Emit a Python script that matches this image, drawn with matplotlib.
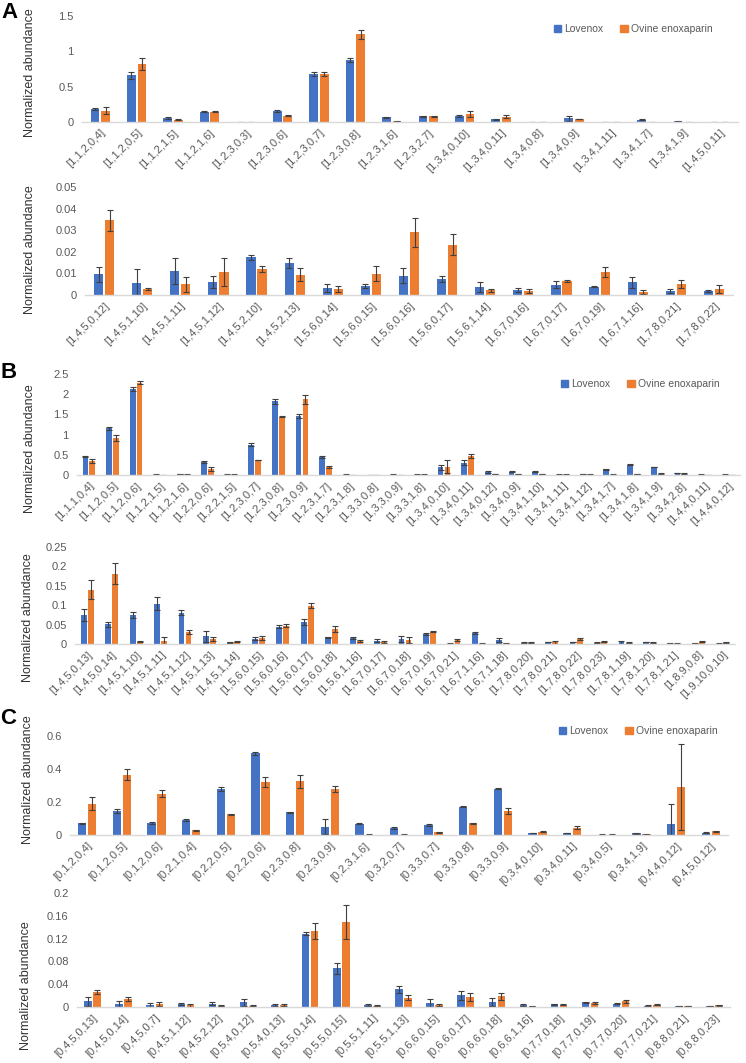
import matplotlib
matplotlib.use("Agg")
import matplotlib.pyplot as plt
from matplotlib.patches import Patch
import numpy as np

plt.rcParams['font.family'] = ['Liberation Sans', 'DejaVu Sans']

BLUE = '#4472C4'
ORANGE = '#ED7D31'
GREY = '#595959'

# --- Panel A, upper ---
labels_a1 = ['[1,1,2,0,4]', '[1,1,2,0,5]', '[1,1,2,1,5]', '[1,1,2,1,6]', '[1,2,3,0,3]', '[1,2,3,0,6]',
             '[1,2,3,0,7]', '[1,2,3,0,8]', '[1,2,3,1,6]', '[1,2,3,2,7]', '[1,3,4,0,10]', '[1,3,4,0,11]',
             '[1,3,4,0,8]', '[1,3,4,0,9]', '[1,3,4,1,11]', '[1,3,4,1,7]', '[1,3,4,1,9]', '[1,4,5,0,11]']
lov_a1 = [0.19, 0.66, 0.055, 0.145, 0.0, 0.155, 0.68, 0.875, 0.065, 0.08, 0.085, 0.037, 0.004, 0.05, 0.003, 0.033, 0.012, 0.002]
lov_err_a1 = [0.015, 0.045, 0.01, 0.01, 0.0, 0.01, 0.03, 0.025, 0.005, 0.005, 0.02, 0.005, 0.002, 0.03, 0.002, 0.005, 0.005, 0.001]
ovi_a1 = [0.16, 0.82, 0.035, 0.145, 0.005, 0.09, 0.68, 1.24, 0.01, 0.08, 0.112, 0.075, 0.004, 0.042, 0.002, 0.0, 0.005, 0.004]
ovi_err_a1 = [0.05, 0.08, 0.005, 0.01, 0.002, 0.01, 0.03, 0.06, 0.003, 0.005, 0.042, 0.023, 0.002, 0.005, 0.001, 0.0, 0.002, 0.002]

# --- Panel A, lower ---
labels_a2 = ['[1,4,5,0,12]', '[1,4,5,1,10]', '[1,4,5,1,11]', '[1,4,5,1,12]', '[1,4,5,2,10]', '[1,4,5,2,13]',
             '[1,5,6,0,14]', '[1,5,6,0,15]', '[1,5,6,0,16]', '[1,5,6,0,17]', '[1,5,6,1,14]', '[1,6,7,0,16]',
             '[1,6,7,0,17]', '[1,6,7,0,19]', '[1,6,7,1,16]', '[1,7,8,0,21]', '[1,7,8,0,22]']
lov_a2 = [0.0095, 0.0054, 0.0112, 0.006, 0.0175, 0.0148, 0.0034, 0.0042, 0.009, 0.0075, 0.0037, 0.0023, 0.0047, 0.0039, 0.0059, 0.002, 0.0019]
lov_err_a2 = [0.0035, 0.0065, 0.006, 0.0026, 0.0011, 0.0024, 0.0018, 0.001, 0.0034, 0.0015, 0.0025, 0.0008, 0.0016, 0.0003, 0.0025, 0.0009, 0.0003]
ovi_a2 = [0.0345, 0.0028, 0.0049, 0.0106, 0.012, 0.0094, 0.0028, 0.0099, 0.029, 0.0232, 0.0021, 0.0018, 0.0065, 0.0107, 0.0015, 0.005, 0.0029]
ovi_err_a2 = [0.005, 0.0005, 0.0034, 0.0066, 0.0015, 0.003, 0.0015, 0.0035, 0.0066, 0.0049, 0.0008, 0.0008, 0.0003, 0.0024, 0.001, 0.0019, 0.0019]

# --- Panel B, upper ---
labels_b1 = ['[1,1,1,0,4]', '[1,1,2,0,5]', '[1,1,2,0,6]', '[1,1,2,1,5]', '[1,1,2,1,6]', '[1,2,2,0,6]', '[1,2,2,1,5]',
             '[1,2,3,0,7]', '[1,2,3,0,8]', '[1,2,3,0,9]', '[1,2,3,1,7]', '[1,2,3,1,8]', '[1,3,3,0,8]', '[1,3,3,0,9]',
             '[1,3,3,1,8]', '[1,3,4,0,10]', '[1,3,4,0,11]', '[1,3,4,0,12]', '[1,3,4,0,9]', '[1,3,4,1,10]',
             '[1,3,4,1,11]', '[1,3,4,1,12]', '[1,3,4,1,7]', '[1,3,4,1,8]', '[1,3,4,1,9]', '[1,3,4,2,8]',
             '[1,4,4,0,11]', '[1,4,4,0,12]']
lov_b1 = [0.46, 1.155, 2.13, 0.01, 0.02, 0.32, 0.01, 0.75, 1.82, 1.46, 0.445, 0.01, 0.005, 0.01, 0.01, 0.19, 0.3,
          0.075, 0.08, 0.08, 0.01, 0.02, 0.14, 0.255, 0.2, 0.05, 0.01, 0.01]
lov_err_b1 = [0.02, 0.03, 0.06, 0.003, 0.005, 0.02, 0.003, 0.03, 0.06, 0.06, 0.03, 0.003, 0.002, 0.003, 0.003, 0.06,
              0.06, 0.02, 0.01, 0.01, 0.003, 0.005, 0.01, 0.01, 0.01, 0.01, 0.003, 0.003]
ovi_b1 = [0.355, 0.91, 2.285, 0.005, 0.01, 0.15, 0.01, 0.37, 1.445, 1.87, 0.205, 0.0, 0.0, 0.005, 0.01, 0.21, 0.48,
          0.025, 0.03, 0.025, 0.01, 0.01, 0.01, 0.03, 0.035, 0.03, 0.0, 0.0]
ovi_err_b1 = [0.05, 0.08, 0.03, 0.002, 0.003, 0.04, 0.003, 0.01, 0.02, 0.12, 0.02, 0.0, 0.0, 0.002, 0.003, 0.16, 0.05,
              0.005, 0.005, 0.005, 0.003, 0.003, 0.003, 0.005, 0.005, 0.01, 0.0, 0.0]

# --- Panel B, lower ---
labels_b2 = ['[1,4,5,0,13]', '[1,4,5,0,14]', '[1,4,5,1,10]', '[1,4,5,1,11]', '[1,4,5,1,12]', '[1,4,5,1,13]',
             '[1,4,5,1,14]', '[1,5,6,0,15]', '[1,5,6,0,16]', '[1,5,6,0,17]', '[1,5,6,0,18]', '[1,5,6,1,16]',
             '[1,6,7,0,17]', '[1,6,7,0,18]', '[1,6,7,0,19]', '[1,6,7,0,21]', '[1,6,7,1,16]', '[1,6,7,1,18]',
             '[1,7,8,0,20]', '[1,7,8,0,21]', '[1,7,8,0,22]', '[1,7,8,0,23]', '[1,7,8,1,19]', '[1,7,8,1,20]',
             '[1,7,8,1,21]', '[1,8,9,0,8]', '[1,9,10,0,10]']
lov_b2 = [0.0745, 0.051, 0.0745, 0.104, 0.081, 0.02, 0.004, 0.014, 0.0445, 0.0565, 0.017, 0.016, 0.009, 0.013, 0.025,
          0.001, 0.028, 0.01, 0.003, 0.005, 0.005, 0.003, 0.004, 0.005, 0.002, 0.002, 0.001]
lov_err_b2 = [0.0145, 0.006, 0.008, 0.017, 0.006, 0.014, 0.001, 0.004, 0.004, 0.008, 0.002, 0.002, 0.003, 0.008,
              0.003, 0.0005, 0.003, 0.006, 0.001, 0.001, 0.001, 0.001, 0.003, 0.001, 0.001, 0.001, 0.0005]
ovi_b2 = [0.14, 0.181, 0.006, 0.009, 0.03, 0.013, 0.006, 0.016, 0.047, 0.099, 0.038, 0.008, 0.005, 0.01, 0.032, 0.01,
          0.001, 0.002, 0.003, 0.004, 0.013, 0.006, 0.003, 0.003, 0.002, 0.006, 0.004]
ovi_err_b2 = [0.025, 0.027, 0.001, 0.009, 0.005, 0.005, 0.002, 0.005, 0.004, 0.007, 0.008, 0.002, 0.002, 0.008, 0.002,
              0.003, 0.0005, 0.001, 0.001, 0.003, 0.003, 0.002, 0.001, 0.001, 0.001, 0.001, 0.001]

# --- Panel C, upper ---
labels_c1 = ['[0,1,2,0,4]', '[0,1,2,0,5]', '[0,1,2,0,6]', '[0,2,1,0,4]', '[0,2,2,0,5]', '[0,2,2,0,6]', '[0,2,3,0,8]',
             '[0,2,3,0,9]', '[0,2,3,1,6]', '[0,3,2,0,7]', '[0,3,3,0,7]', '[0,3,3,0,8]', '[0,3,3,0,9]', '[0,3,4,0,10]',
             '[0,3,4,0,11]', '[0,3,4,0,5]', '[0,3,4,1,9]', '[0,4,4,0,12]', '[0,4,5,0,12]']
lov_c1 = [0.07, 0.145, 0.072, 0.09, 0.28, 0.494, 0.138, 0.05, 0.068, 0.044, 0.06, 0.17, 0.28, 0.012, 0.012, 0.003,
          0.01, 0.064, 0.015]
lov_err_c1 = [0.005, 0.01, 0.004, 0.005, 0.013, 0.012, 0.004, 0.045, 0.004, 0.005, 0.004, 0.003, 0.002, 0.002, 0.002,
              0.001, 0.002, 0.126, 0.003]
ovi_c1 = [0.19, 0.366, 0.25, 0.03, 0.125, 0.32, 0.325, 0.28, 0.003, 0.003, 0.018, 0.072, 0.145, 0.02, 0.044, 0.003,
          0.004, 0.293, 0.022]
ovi_err_c1 = [0.04, 0.034, 0.02, 0.003, 0.003, 0.03, 0.04, 0.02, 0.001, 0.001, 0.003, 0.003, 0.02, 0.003, 0.01, 0.001,
              0.001, 0.26, 0.004]

# --- Panel C, lower ---
labels_c2 = ['[0,4,5,0,13]', '[0,4,5,0,14]', '[0,4,5,0,7]', '[0,4,5,1,12]', '[0,4,5,2,12]', '[0,5,4,0,12]',
             '[0,5,4,0,13]', '[0,5,5,0,14]', '[0,5,5,0,15]', '[0,5,5,1,11]', '[0,5,5,1,13]', '[0,6,6,0,15]',
             '[0,6,6,0,17]', '[0,6,6,0,18]', '[0,6,6,1,16]', '[0,7,7,0,18]', '[0,7,7,0,19]', '[0,7,7,0,20]',
             '[0,7,7,0,21]', '[0,8,8,0,21]', '[0,8,8,0,23]']
lov_c2 = [0.01, 0.005, 0.003, 0.005, 0.006, 0.008, 0.004, 0.1285, 0.068, 0.003, 0.031, 0.0065, 0.0205, 0.009, 0.004,
          0.005, 0.008, 0.006, 0.002, 0.002, 0.002]
lov_err_c2 = [0.008, 0.006, 0.004, 0.002, 0.002, 0.006, 0.002, 0.003, 0.01, 0.002, 0.006, 0.008, 0.008, 0.007, 0.002,
              0.001, 0.001, 0.001, 0.001, 0.0005, 0.0005]
ovi_c2 = [0.026, 0.014, 0.005, 0.003, 0.002, 0.002, 0.003, 0.134, 0.1495, 0.002, 0.0165, 0.004, 0.017, 0.0185, 0.001,
          0.004, 0.007, 0.01, 0.004, 0.002, 0.003]
ovi_err_c2 = [0.004, 0.004, 0.003, 0.003, 0.001, 0.001, 0.002, 0.014, 0.03, 0.001, 0.005, 0.002, 0.007, 0.006, 0.001,
              0.001, 0.001, 0.003, 0.001, 0.0005, 0.001]

W, H = 746, 1063
fig = plt.figure(figsize=(W / 100, H / 100), dpi=100)


def px_axes(x0, y0, x1, y1):
    # axes rectangle given in pixel coordinates of the reference (top-left origin)
    return fig.add_axes([x0 / W, 1 - y1 / H, (x1 - x0) / W, (y1 - y0) / H])


def draw_panel(ax, labels, lov, lov_err, ovi, ovi_err, ymax, ystep):
    x = np.arange(len(labels))
    w = 0.24
    d = 0.145
    ekw = dict(ecolor='#404040', elinewidth=0.8, capsize=2, capthick=0.8)
    ax.bar(x - d, lov, w, color=BLUE, yerr=lov_err, error_kw=ekw, zorder=2)
    ax.bar(x + d, ovi, w, color=ORANGE, yerr=ovi_err, error_kw=ekw, zorder=2)
    ax.set_xlim(-0.5, len(labels) - 0.5)
    ax.set_ylim(0, ymax)
    ticks = np.arange(0, ymax + ystep / 2, ystep)
    ax.set_yticks(ticks)
    ax.set_yticklabels(['%g' % round(t, 4) for t in ticks])
    ax.set_xticks(x)
    ax.set_xticklabels(labels, rotation=45, ha='right', rotation_mode='anchor')
    for s in ['top', 'right', 'left']:
        ax.spines[s].set_visible(False)
    ax.spines['bottom'].set_color('#D9D9D9')
    ax.spines['bottom'].set_linewidth(1.0)
    ax.tick_params(axis='x', length=0, pad=4, labelsize=8, labelcolor=GREY)
    ax.tick_params(axis='y', length=0, pad=6, labelsize=8, labelcolor=GREY)


panels = [
    ((82, 16, 738, 122), labels_a1, lov_a1, lov_err_a1, ovi_a1, ovi_err_a1, 1.5, 0.5, (30, 73)),
    ((85, 187, 733, 295), labels_a2, lov_a2, lov_err_a2, ovi_a2, ovi_err_a2, 0.05, 0.01, (30, 250)),
    ((77, 374, 740, 475), labels_b1, lov_b1, lov_err_b1, ovi_b1, ovi_err_b1, 2.5, 0.5, (30, 449)),
    ((75, 547, 735, 644), labels_b2, lov_b2, lov_err_b2, ovi_b2, ovi_err_b2, 0.25, 0.05, (28, 618)),
    ((70, 736, 728, 835), labels_c1, lov_c1, lov_err_c1, ovi_c1, ovi_err_c1, 0.6, 0.2, (28, 780)),
    ((77, 893, 730, 1007), labels_c2, lov_c2, lov_err_c2, ovi_c2, ovi_err_c2, 0.2, 0.04, (26, 986)),
]

for rect, labels, lov, lov_err, ovi, ovi_err, ymax, ystep, ylab in panels:
    ax = px_axes(*rect)
    draw_panel(ax, labels, lov, lov_err, ovi, ovi_err, ymax, ystep)
    fig.text(ylab[0] / W, 1 - ylab[1] / H, 'Normalized abundance', rotation=90,
             ha='center', va='center', fontsize=9, color='#333333')

# panel letters
for letter, (lx, ly) in [('A', (9, 13)), ('B', (9, 372)), ('C', (8, 718))]:
    fig.text(lx / W, 1 - ly / H, letter, ha='center', va='center', fontsize=16,
             fontweight='bold', color='black')

# legends
handles = [Patch(color=BLUE), Patch(color=ORANGE)]
for lx, ly in [(554, 29), (561, 384), (559, 731)]:
    leg = fig.legend(handles, ['Lovenox', 'Ovine enoxaparin'], loc='center left',
                     bbox_to_anchor=(lx / W, 1 - ly / H), ncol=2, frameon=False,
                     fontsize=7.5, handlelength=0.7, handleheight=0.7, handletextpad=0.3,
                     columnspacing=1.6, borderpad=0, borderaxespad=0)
    for t in leg.get_texts():
        t.set_color(GREY)

fig.savefig('out.png', dpi=100)
